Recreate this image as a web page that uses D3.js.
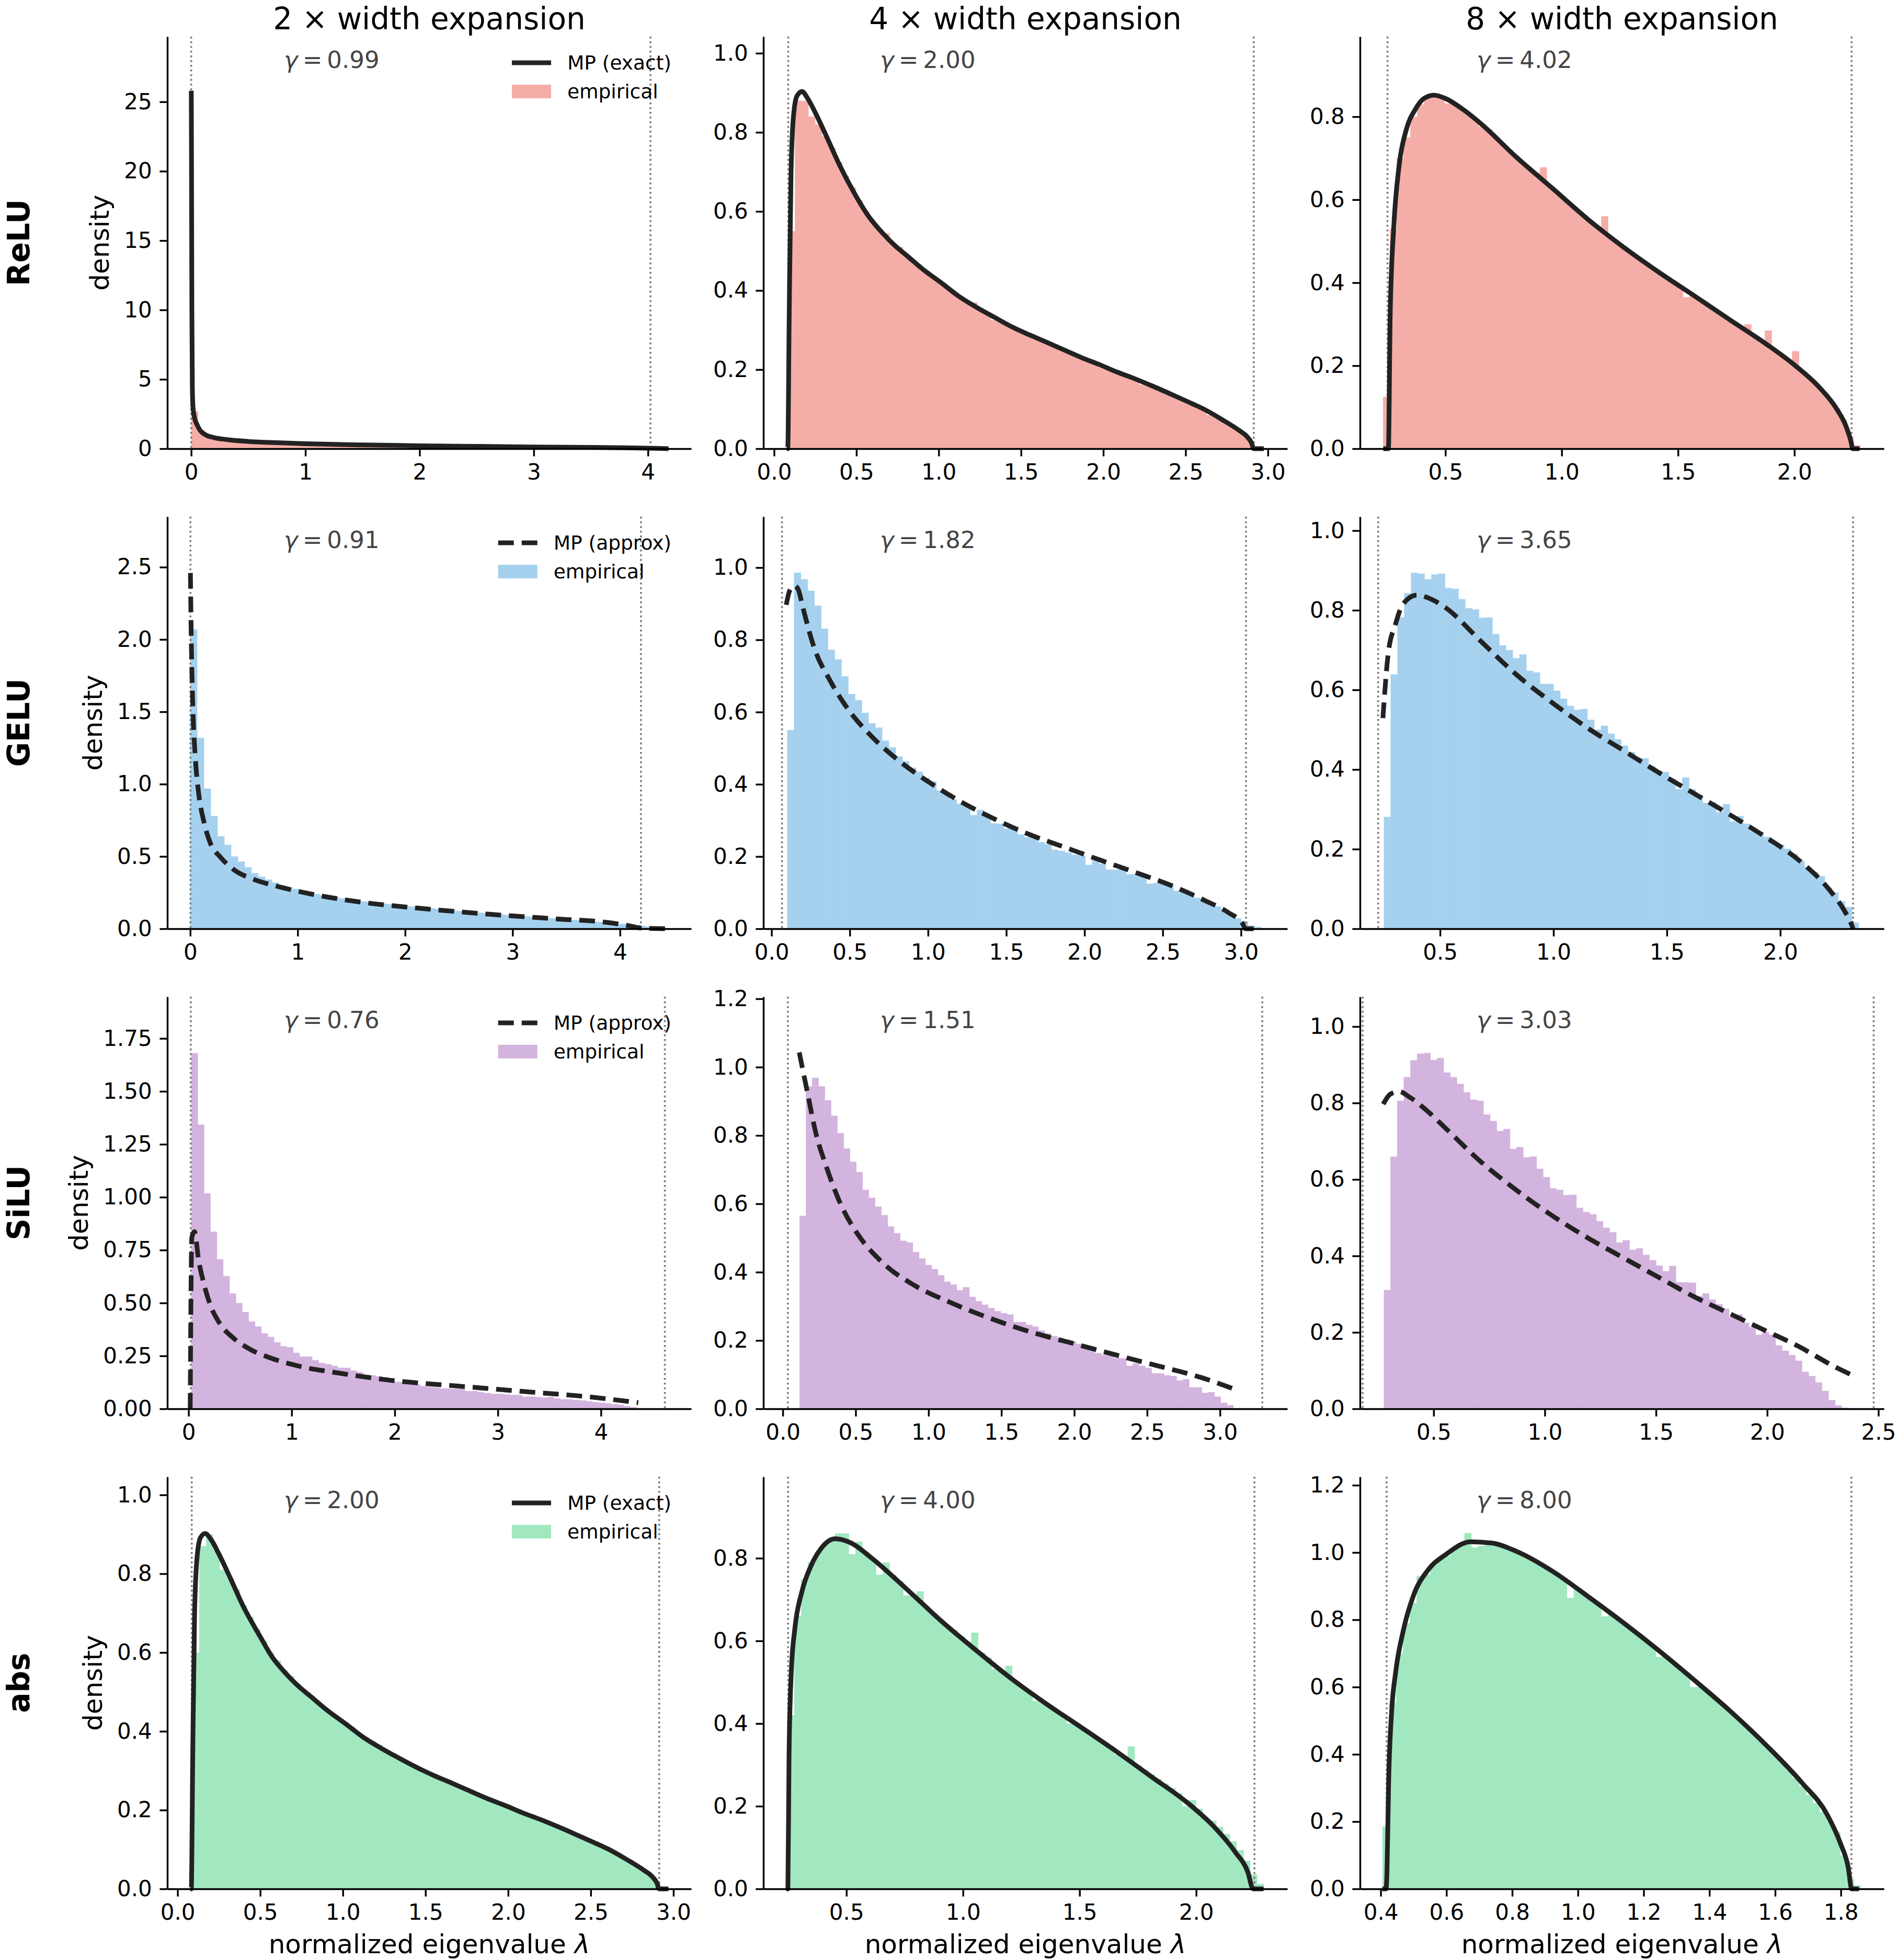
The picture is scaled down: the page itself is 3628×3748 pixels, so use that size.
<!DOCTYPE html>
<html>
<head>
<meta charset="utf-8">
<script src="https://cdn.jsdelivr.net/npm/d3@7"></script>
<style>
  body { margin: 0; background: #fff; }
  text { font-family: "DejaVu Sans", sans-serif; }
</style>
</head>
<body>
<script>
// ---- labels ----
const rowNames = ["ReLU", "GELU", "SiLU", "abs"];
const colTitles = ["2 \u00d7 width expansion", "4 \u00d7 width expansion", "8 \u00d7 width expansion"];
const gammaValues = [0.99, 2.00, 4.02, 0.91, 1.82, 3.65, 0.76, 1.51, 3.03, 2.00, 4.00, 8.00];
const mpKind = ["exact", "approx", "approx", "exact"];
const histColors = ["#f4aea7", "#a5d1ef", "#d3b4de", "#a1e8c0"];

// ---- tick values ----
const xTicksInt = [0, 1, 2, 3, 4];
const xTicks3 = [0, 0.5, 1, 1.5, 2, 2.5, 3];
const xTicks2 = [0.5, 1, 1.5, 2];
const xTicks25 = [0.5, 1, 1.5, 2, 2.5];
const xTicksAbs8 = [0.4, 0.6, 0.8, 1.0, 1.2, 1.4, 1.6, 1.8];
const yTicksRelu2 = [0, 5, 10, 15, 20, 25];
const yTicks10 = [0, 0.2, 0.4, 0.6, 0.8, 1.0];
const yTicks08 = [0, 0.2, 0.4, 0.6, 0.8];
const yTicks12 = [0, 0.2, 0.4, 0.6, 0.8, 1.0, 1.2];
const yTicksGelu2 = [0, 0.5, 1.0, 1.5, 2.0, 2.5];
const yTicksSilu2 = [0, 0.25, 0.5, 0.75, 1.0, 1.25, 1.5, 1.75];

// ---- ReLU ----
const relu2Range = [0.0, 4.17];
const relu2Hist = [2.7,1.35,0.98,0.82,0.72,0.65,0.6,0.56,0.52,0.49,
  0.46,0.44,0.42,0.4,0.385,0.37,0.355,0.34,0.33,0.32,
  0.31,0.3,0.29,0.28,0.27,0.262,0.255,0.248,0.24,0.233,
  0.226,0.22,0.213,0.207,0.2,0.195,0.19,0.184,0.178,0.172,
  0.167,0.162,0.157,0.152,0.147,0.142,0.137,0.132,0.127,0.122,
  0.117,0.112,0.107,0.102,0.097,0.092,0.087,0.082,0.077,0.072,
  0.067,0.062,0.057,0.052,0.046,0.04,0.034,0.027,0.018,0.008];
const relu2Curve = [[0.001,25.8],[0.003,20],[0.006,10],[0.01,4.5],[0.016,3.0],[0.03,2.2],[0.05,1.75],[0.08,1.3],[0.13,0.98],[0.2,0.8],[0.3,0.67],[0.5,0.52],[0.75,0.43],[1.0,0.36],[1.5,0.27],[2.0,0.21],[2.5,0.165],[3.0,0.125],[3.5,0.09],[3.8,0.065],[4.0,0.04],[4.1,0.02],[4.18,0]];
const relu2Edges = [0.0, 4.022];

const relu4Range = [0.085, 2.955];
const relu4Hist = [0.55,0.88,0.88,0.84,0.82,0.79,0.76,0.725,0.69,0.66,
  0.628,0.6,0.575,0.555,0.545,0.52,0.51,0.49,0.475,0.46,
  0.447,0.434,0.421,0.41,0.397,0.385,0.374,0.37,0.353,0.343,
  0.325,0.324,0.315,0.306,0.298,0.29,0.283,0.276,0.269,0.262,
  0.252,0.245,0.238,0.23,0.223,0.216,0.205,0.202,0.196,0.19,
  0.183,0.176,0.162,0.162,0.155,0.148,0.14,0.132,0.122,0.117,
  0.108,0.1,0.085,0.081,0.072,0.061,0.05,0.038,0.02,0.006];
const relu4Curve = [[0.077,0],[0.083,0],[0.092,0.347],[0.103,0.7],[0.118,0.842],[0.139,0.892],[0.17,0.903],[0.202,0.887],[0.25,0.85],[0.319,0.789],[0.4,0.715],[0.489,0.645],[0.57,0.59],[0.659,0.545],[0.73,0.515],[0.807,0.488],[0.9,0.455],[1.02,0.418],[1.12,0.386],[1.232,0.357],[1.34,0.332],[1.445,0.308],[1.55,0.288],[1.657,0.269],[1.76,0.25],[1.87,0.23],[1.98,0.212],[2.082,0.194],[2.19,0.177],[2.295,0.159],[2.4,0.14],[2.507,0.12],[2.62,0.098],[2.72,0.074],[2.826,0.046],[2.87,0.032],[2.9,0.015],[2.914,0],[2.975,0]];
const relu4Edges = [0.0858, 2.914];

const relu8Range = [0.232, 2.283];
const relu8Hist = [0.125,0.53,0.7,0.75,0.8,0.83,0.848,0.855,0.85,0.832,
  0.83,0.82,0.808,0.795,0.776,0.77,0.75,0.735,0.72,0.704,
  0.689,0.675,0.665,0.678,0.632,0.618,0.603,0.589,0.575,0.561,
  0.547,0.534,0.56,0.508,0.495,0.483,0.471,0.459,0.447,0.436,
  0.425,0.414,0.403,0.392,0.365,0.37,0.359,0.348,0.337,0.326,
  0.315,0.304,0.293,0.3,0.271,0.26,0.285,0.237,0.225,0.21,
  0.235,0.185,0.17,0.155,0.138,0.118,0.097,0.07,0.03,0.008];
const relu8Curve = [[0.233,0],[0.255,0],[0.263,0.33],[0.278,0.533],[0.301,0.682],[0.332,0.769],[0.37,0.817],[0.408,0.844],[0.451,0.852],[0.5,0.844],[0.577,0.817],[0.653,0.783],[0.806,0.702],[0.959,0.628],[1.112,0.553],[1.265,0.486],[1.418,0.425],[1.571,0.368],[1.724,0.31],[1.877,0.253],[2.0,0.202],[2.107,0.148],[2.184,0.094],[2.222,0.054],[2.245,0.013],[2.25,0],[2.28,0]];
const relu8Edges = [0.2512, 2.246];

// ---- GELU ----
const gelu2Range = [0.0, 4.43];
const gelu2Hist = [2.07,1.32,0.97,0.78,0.64,0.58,0.5,0.465,0.425,0.385,
  0.36,0.34,0.32,0.3,0.285,0.275,0.262,0.25,0.24,0.232,
  0.224,0.216,0.21,0.203,0.197,0.19,0.185,0.18,0.174,0.17,
  0.165,0.16,0.155,0.15,0.146,0.141,0.137,0.132,0.128,0.124,
  0.12,0.116,0.112,0.108,0.104,0.1,0.097,0.093,0.09,0.086,
  0.082,0.079,0.075,0.072,0.068,0.064,0.061,0.057,0.053,0.05,
  0.046,0.042,0.038,0.034,0.03,0.025,0.02,0.015,0.01,0.005];
const gelu2Curve = [[0.002,2.46],[0.009,2.05],[0.025,1.52],[0.047,1.19],[0.078,0.94],[0.124,0.75],[0.186,0.594],[0.279,0.497],[0.403,0.41],[0.589,0.342],[0.806,0.294],[1.085,0.246],[1.55,0.188],[2.17,0.139],[2.79,0.1],[3.41,0.068],[3.875,0.044],[4.09,0.02],[4.19,0.005],[4.45,0]];
const gelu2Edges = [0.0023, 4.195];

const gelu4Range = [0.1, 3.13];
const gelu4Hist = [0.55,0.986,0.968,0.936,0.895,0.831,0.773,0.746,0.699,0.65,
  0.633,0.598,0.569,0.557,0.521,0.502,0.477,0.464,0.446,0.435,
  0.418,0.408,0.383,0.371,0.358,0.346,0.342,0.315,0.329,0.317,
  0.292,0.291,0.278,0.277,0.261,0.253,0.25,0.24,0.234,0.219,
  0.216,0.211,0.205,0.203,0.177,0.191,0.18,0.164,0.164,0.166,
  0.151,0.151,0.146,0.125,0.127,0.127,0.121,0.105,0.101,0.096,
  0.086,0.078,0.068,0.062,0.05,0.041,0.029,0.02,0.009,0.005];
const gelu4Curve = [[0.094,0.897],[0.115,0.935],[0.145,0.95],[0.17,0.94],[0.2,0.89],[0.27,0.781],[0.373,0.688],[0.485,0.61],[0.641,0.532],[0.82,0.463],[0.999,0.408],[1.2,0.354],[1.424,0.304],[1.648,0.261],[1.871,0.226],[2.095,0.191],[2.318,0.157],[2.542,0.122],[2.765,0.079],[2.922,0.044],[3.011,0.014],[3.03,0],[3.12,0]];
const gelu4Edges = [0.067, 3.032];

const gelu8Range = [0.252, 2.345];
const gelu8Hist = [0.281,0.639,0.782,0.843,0.894,0.892,0.878,0.89,0.892,0.856,
  0.854,0.828,0.805,0.802,0.781,0.782,0.74,0.712,0.7,0.68,
  0.689,0.648,0.644,0.615,0.615,0.598,0.578,0.56,0.55,0.552,
  0.525,0.5,0.51,0.49,0.476,0.46,0.444,0.43,0.428,0.408,
  0.398,0.394,0.377,0.351,0.38,0.35,0.336,0.316,0.318,0.293,
  0.313,0.27,0.283,0.264,0.25,0.243,0.231,0.215,0.211,0.201,
  0.188,0.171,0.155,0.143,0.132,0.104,0.091,0.069,0.055,0.016];
const gelu8Curve = [[0.248,0.529],[0.272,0.694],[0.303,0.764],[0.335,0.814],[0.398,0.838],[0.46,0.828],[0.523,0.807],[0.68,0.722],[0.837,0.638],[0.994,0.568],[1.151,0.504],[1.308,0.448],[1.465,0.392],[1.622,0.339],[1.779,0.286],[1.936,0.23],[2.093,0.167],[2.219,0.096],[2.281,0.047],[2.313,0.012],[2.321,0]];
const gelu8Edges = [0.227, 2.321];

// ---- SiLU ----
const silu2Range = [0.026, 4.345];
const silu2Hist = [1.681,1.343,1.018,0.837,0.707,0.627,0.545,0.5,0.457,0.413,
  0.389,0.357,0.34,0.314,0.296,0.291,0.265,0.247,0.247,0.23,
  0.217,0.211,0.203,0.194,0.194,0.181,0.174,0.161,0.158,0.154,
  0.15,0.134,0.128,0.124,0.119,0.115,0.108,0.105,0.101,0.097,
  0.097,0.095,0.095,0.084,0.084,0.079,0.075,0.071,0.071,0.068,
  0.066,0.066,0.058,0.058,0.056,0.053,0.056,0.049,0.045,0.045,
  0.042,0.04,0.036,0.032,0.029,0.026,0.022,0.019,0.013,0.008];
const silu2Curve = [[0.016,0],[0.022,0.45],[0.032,0.81],[0.058,0.837],[0.097,0.704],[0.145,0.598],[0.21,0.492],[0.307,0.4],[0.436,0.334],[0.597,0.281],[0.791,0.241],[1.05,0.204],[1.47,0.168],[1.955,0.135],[2.6,0.108],[3.247,0.082],[3.893,0.056],[4.362,0.029]];
const silu2Edges = [0.0216, 4.62];

const silu4Range = [0.115, 3.09];
const silu4Hist = [0.565,0.944,0.969,0.944,0.903,0.858,0.807,0.762,0.723,0.693,
  0.641,0.618,0.592,0.567,0.534,0.514,0.492,0.487,0.459,0.44,
  0.421,0.409,0.391,0.372,0.364,0.347,0.356,0.328,0.315,0.305,
  0.295,0.286,0.28,0.276,0.254,0.254,0.246,0.241,0.229,0.221,
  0.213,0.208,0.202,0.197,0.19,0.184,0.18,0.163,0.158,0.156,
  0.149,0.148,0.126,0.133,0.126,0.12,0.104,0.104,0.098,0.096,
  0.083,0.087,0.063,0.063,0.047,0.049,0.036,0.018,0.011];
const silu4Curve = [[0.113,1.043],[0.168,0.928],[0.228,0.805],[0.3,0.707],[0.396,0.6],[0.516,0.51],[0.684,0.428],[0.9,0.362],[1.14,0.313],[1.428,0.264],[1.716,0.223],[2.004,0.19],[2.292,0.157],[2.58,0.125],[2.868,0.092],[3.132,0.052]];
const silu4Edges = [0.0347, 3.29];

const silu8Range = [0.276, 2.365];
const silu8Hist = [0.311,0.66,0.806,0.868,0.912,0.929,0.931,0.913,0.918,0.88,
  0.868,0.85,0.828,0.809,0.806,0.77,0.753,0.727,0.732,0.68,
  0.685,0.658,0.66,0.628,0.606,0.577,0.573,0.559,0.56,0.526,
  0.515,0.509,0.491,0.474,0.462,0.435,0.441,0.416,0.42,0.403,
  0.389,0.375,0.36,0.374,0.331,0.331,0.33,0.295,0.302,0.286,
  0.274,0.262,0.24,0.247,0.225,0.214,0.194,0.201,0.194,0.166,
  0.152,0.141,0.126,0.097,0.086,0.069,0.047,0.023,0.009,0.003];
const silu8Curve = [[0.2735,0.797],[0.305,0.823],[0.345,0.83],[0.393,0.815],[0.472,0.779],[0.552,0.735],[0.711,0.647],[0.87,0.573],[1.029,0.507],[1.188,0.449],[1.347,0.397],[1.506,0.346],[1.665,0.295],[1.824,0.251],[1.983,0.207],[2.142,0.163],[2.301,0.111],[2.397,0.084]];
const silu8Edges = [0.181, 2.479];

// ---- abs ----
const abs2Range = [0.09, 2.96];
const abs2Hist = [0.6,0.87,0.9,0.86,0.81,0.79,0.76,0.72,0.69,0.66,
  0.63,0.6,0.58,0.555,0.54,0.52,0.5,0.49,0.475,0.46,
  0.445,0.435,0.42,0.41,0.395,0.385,0.375,0.365,0.35,0.345,
  0.335,0.325,0.315,0.305,0.3,0.29,0.283,0.275,0.27,0.26,
  0.255,0.245,0.238,0.232,0.225,0.215,0.21,0.2,0.196,0.19,
  0.183,0.177,0.168,0.162,0.155,0.148,0.14,0.132,0.125,0.117,
  0.108,0.1,0.09,0.081,0.071,0.06,0.05,0.037,0.02,0.006];
const abs2Curve = [[0.077,0],[0.083,0],[0.092,0.347],[0.103,0.7],[0.118,0.842],[0.139,0.892],[0.167,0.902],[0.202,0.887],[0.25,0.85],[0.319,0.789],[0.4,0.715],[0.5,0.64],[0.57,0.59],[0.659,0.545],[0.73,0.515],[0.807,0.488],[0.9,0.455],[1.02,0.418],[1.12,0.386],[1.232,0.357],[1.34,0.332],[1.488,0.3],[1.55,0.288],[1.657,0.269],[1.76,0.25],[1.87,0.23],[1.98,0.212],[2.082,0.194],[2.19,0.177],[2.295,0.159],[2.4,0.14],[2.507,0.12],[2.62,0.098],[2.72,0.074],[2.826,0.046],[2.87,0.032],[2.9,0.015],[2.914,0],[2.97,0]];
const abs2Edges = [0.0858, 2.914];

const abs4Range = [0.247, 2.29];
const abs4Hist = [0.42,0.66,0.75,0.79,0.815,0.835,0.85,0.86,0.86,0.81,
  0.84,0.815,0.8,0.76,0.79,0.76,0.745,0.71,0.712,0.72,
  0.68,0.666,0.652,0.632,0.626,0.612,0.598,0.62,0.572,0.56,
  0.532,0.529,0.54,0.503,0.49,0.478,0.455,0.454,0.442,0.431,
  0.42,0.4,0.398,0.387,0.376,0.365,0.354,0.343,0.325,0.321,
  0.345,0.299,0.288,0.277,0.266,0.255,0.244,0.232,0.2,0.215,
  0.194,0.17,0.165,0.15,0.133,0.115,0.094,0.068,0.035,0.012];
const abs4Curve = [[0.242,0],[0.249,0],[0.254,0.325],[0.264,0.529],[0.279,0.63],[0.309,0.719],[0.347,0.78],[0.392,0.824],[0.452,0.847],[0.519,0.837],[0.609,0.8],[0.759,0.725],[0.909,0.647],[1.059,0.576],[1.209,0.508],[1.359,0.447],[1.509,0.39],[1.659,0.332],[1.809,0.271],[1.959,0.21],[2.079,0.149],[2.169,0.088],[2.222,0.04],[2.244,0],[2.289,0]];
const abs4Edges = [0.25, 2.25];

const abs8Range = [0.405, 1.86];
const abs8Hist = [0.186,0.553,0.7,0.79,0.85,0.93,0.935,0.962,0.98,0.99,
  1.01,1.02,1.058,1.015,1.02,1.027,1.025,1.018,1.01,1.003,
  0.994,0.983,0.972,0.96,0.948,0.935,0.92,0.865,0.892,0.877,
  0.862,0.847,0.81,0.817,0.8,0.786,0.77,0.756,0.74,0.724,
  0.69,0.69,0.674,0.657,0.64,0.6,0.6,0.587,0.57,0.552,
  0.534,0.515,0.497,0.478,0.458,0.438,0.418,0.397,0.376,0.354,
  0.33,0.305,0.28,0.255,0.228,0.2,0.17,0.1,0.03,0.01];
const abs8Curve = [[0.405,0],[0.416,0],[0.419,0.048],[0.424,0.315],[0.433,0.523],[0.446,0.648],[0.468,0.765],[0.5,0.873],[0.544,0.948],[0.598,0.994],[0.674,1.032],[0.739,1.028],[0.815,1.0025],[0.923,0.944],[1.031,0.869],[1.14,0.79],[1.248,0.707],[1.356,0.619],[1.465,0.527],[1.573,0.427],[1.682,0.315],[1.757,0.223],[1.8,0.132],[1.822,0.066],[1.833,0],[1.855,0]];
const abs8Edges = [0.418, 1.832];

// ---- axis limits (data units) ----
const xLims = [[-0.209,4.379],[-0.065,3.118],[0.133,2.385],
               [-0.213,4.663],[-0.052,3.296],[0.147,2.457],
               [-0.206,4.876],[-0.133,3.462],[0.169,2.525],
               [-0.062,3.108],[0.144,2.391],[0.337,1.931]];
const yLims = [29.7, 1.042, 0.993, 2.849, 1.141, 1.035, 1.947, 1.206, 1.078, 1.046, 0.997, 1.225];

const panels = [
  {hist: relu2Hist, range: relu2Range, curve: relu2Curve, edges: relu2Edges, xt: xTicksInt, yt: yTicksRelu2, xf: "d", yf: "d"},
  {hist: relu4Hist, range: relu4Range, curve: relu4Curve, edges: relu4Edges, xt: xTicks3, yt: yTicks10, xf: ".1f", yf: ".1f"},
  {hist: relu8Hist, range: relu8Range, curve: relu8Curve, edges: relu8Edges, xt: xTicks2, yt: yTicks08, xf: ".1f", yf: ".1f"},
  {hist: gelu2Hist, range: gelu2Range, curve: gelu2Curve, edges: gelu2Edges, xt: xTicksInt, yt: yTicksGelu2, xf: "d", yf: ".1f"},
  {hist: gelu4Hist, range: gelu4Range, curve: gelu4Curve, edges: gelu4Edges, xt: xTicks3, yt: yTicks10, xf: ".1f", yf: ".1f"},
  {hist: gelu8Hist, range: gelu8Range, curve: gelu8Curve, edges: gelu8Edges, xt: xTicks2, yt: yTicks10, xf: ".1f", yf: ".1f"},
  {hist: silu2Hist, range: silu2Range, curve: silu2Curve, edges: silu2Edges, xt: xTicksInt, yt: yTicksSilu2, xf: "d", yf: ".2f"},
  {hist: silu4Hist, range: silu4Range, curve: silu4Curve, edges: silu4Edges, xt: xTicks3, yt: yTicks12, xf: ".1f", yf: ".1f"},
  {hist: silu8Hist, range: silu8Range, curve: silu8Curve, edges: silu8Edges, xt: xTicks25, yt: yTicks10, xf: ".1f", yf: ".1f"},
  {hist: abs2Hist, range: abs2Range, curve: abs2Curve, edges: abs2Edges, xt: xTicks3, yt: yTicks10, xf: ".1f", yf: ".1f"},
  {hist: abs4Hist, range: abs4Range, curve: abs4Curve, edges: abs4Edges, xt: xTicks2, yt: yTicks08, xf: ".1f", yf: ".1f"},
  {hist: abs8Hist, range: abs8Range, curve: abs8Curve, edges: abs8Edges, xt: xTicksAbs8, yt: yTicks12, xf: ".1f", yf: ".1f"}
];

// ---- layout ----
const W = 1002, H = 788;
const colX = [320, 1460, 2601];
const rowY = [70, 988, 1906, 2824];

const svg = d3.select("body").append("svg")
  .attr("width", 3628).attr("height", 3748)
  .style("display", "block");

panels.forEach((p, k) => {
  const r = Math.floor(k / 3), c = k % 3;
  const g = svg.append("g").attr("transform", `translate(${colX[c]},${rowY[r]})`);

  const x = d3.scaleLinear().domain(xLims[k]).range([0, W]);
  const y = d3.scaleLinear().domain([0, yLims[k]]).range([H, 0]);

  // histogram
  const bw = (p.range[1] - p.range[0]) / p.hist.length;
  const edge = i => p.range[0] + i * bw;
  g.append("g").selectAll("rect")
    .data(p.hist)
    .join("rect")
    .attr("x", (d, i) => x(edge(i)))
    .attr("width", (d, i) => x(edge(i + 1)) - x(edge(i)) + 0.6)
    .attr("y", d => y(d))
    .attr("height", d => y(0) - y(d))
    .attr("fill", histColors[r]);

  // MP support edges
  g.append("g").selectAll("line")
    .data(p.edges)
    .join("line")
    .attr("x1", d => x(d)).attr("x2", d => x(d))
    .attr("y1", 0).attr("y2", H)
    .attr("stroke", "#7a7a7a")
    .attr("stroke-width", 3.6)
    .attr("stroke-dasharray", "3.6,5.4");

  // MP density
  const mpLine = d3.line()
    .x(d => x(d[0]))
    .y(d => y(d[1]))
    .curve(d3.curveMonotoneX);
  g.append("path")
    .datum(p.curve)
    .attr("d", mpLine)
    .attr("fill", "none")
    .attr("stroke", "#222")
    .attr("stroke-width", 9)
    .attr("stroke-linejoin", "round")
    .attr("stroke-dasharray", mpKind[r] === "approx" ? "30,15" : null);

  // axes
  const xa = g.append("g")
    .attr("transform", `translate(0,${H})`)
    .call(d3.axisBottom(x).tickValues(p.xt).tickFormat(d3.format(p.xf))
      .tickSize(14.6).tickPadding(14.6).tickSizeOuter(0));
  const ya = g.append("g")
    .call(d3.axisLeft(y).tickValues(p.yt).tickFormat(d3.format(p.yf))
      .tickSize(14.6).tickPadding(14.6).tickSizeOuter(0));
  [xa, ya].forEach(a => {
    a.attr("font-size", 42).attr("font-family", "DejaVu Sans");
    a.select(".domain").attr("stroke", "#000").attr("stroke-width", 3.4);
    a.selectAll(".tick line").attr("stroke", "#000").attr("stroke-width", 3.4);
    a.selectAll(".tick text").attr("fill", "#000");
  });

  // gamma annotation
  const gt = g.append("text")
    .attr("x", 223).attr("y", 60)
    .attr("font-size", 45).attr("fill", "#444");
  gt.append("tspan").attr("font-style", "italic").text("\u03b3");
  gt.append("tspan").text("\u2009=\u2009" + d3.format(".2f")(gammaValues[k]));

  // legend + y labels on first column
  if (c === 0) {
    const lg = g.append("g").attr("font-size", 37.5);
    const t1 = lg.append("text").attr("y", 50).attr("dy", "0.35em").text(`MP (${mpKind[r]})`);
    const t2 = lg.append("text").attr("y", 105).attr("dy", "0.35em").text("empirical");
    const tx = W - 38 - t1.node().getComputedTextLength();
    t1.attr("x", tx);
    t2.attr("x", tx);
    lg.append("line")
      .attr("x1", tx - 106).attr("x2", tx - 31)
      .attr("y1", 50).attr("y2", 50)
      .attr("stroke", "#222").attr("stroke-width", 9)
      .attr("stroke-dasharray", mpKind[r] === "approx" ? "30,15" : null);
    lg.append("rect")
      .attr("x", tx - 106).attr("y", 92)
      .attr("width", 75).attr("height", 26)
      .attr("fill", histColors[r]);

    // y label sits left of the widest tick label
    let minX = 0;
    ya.selectAll(".tick text").each(function () {
      const b = this.getBBox();
      const t = this.parentNode.transform.baseVal.consolidate();
      const ox = t ? t.matrix.e : 0;
      minX = Math.min(minX, ox + b.x);
    });
    g.append("text")
      .attr("transform", `translate(${minX - 17 - 29},${H / 2}) rotate(-90)`)
      .attr("text-anchor", "middle")
      .attr("dominant-baseline", "central")
      .attr("font-size", 50)
      .text("density");

    g.append("text")
      .attr("transform", `translate(${36 - colX[0]},${H / 2}) rotate(-90)`)
      .attr("text-anchor", "middle")
      .attr("dominant-baseline", "central")
      .attr("font-size", 58)
      .attr("font-weight", "bold")
      .text(rowNames[r]);
  }

  if (r === 0) {
    g.append("text")
      .attr("x", W / 2).attr("y", -14)
      .attr("text-anchor", "middle")
      .attr("font-size", 58)
      .text(colTitles[c]);
  }

  if (r === 3) {
    const xl = g.append("text")
      .attr("x", W / 2).attr("y", H + 106)
      .attr("text-anchor", "middle")
      .attr("dominant-baseline", "central")
      .attr("font-size", 50);
    xl.append("tspan").text("normalized eigenvalue ");
    xl.append("tspan").attr("font-style", "italic").text("\u03bb");
  }
});
</script>
</body>
</html>
